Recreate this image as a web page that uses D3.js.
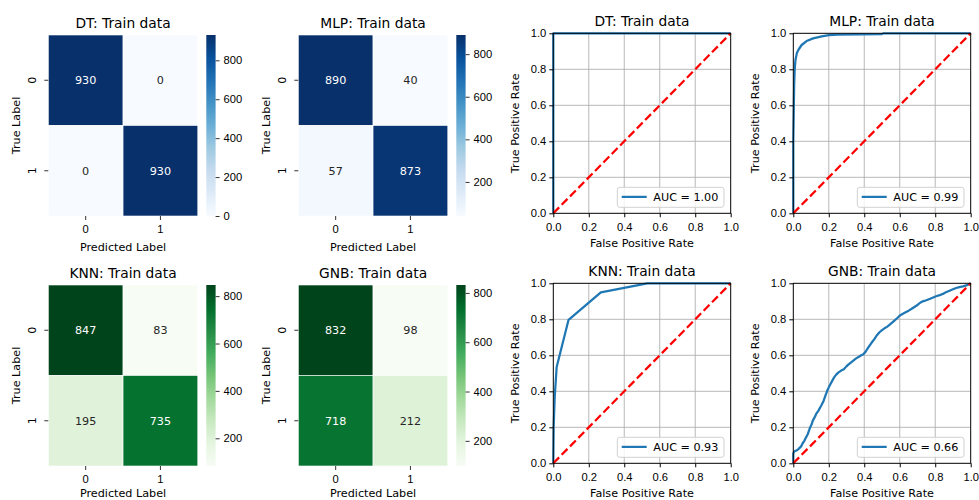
<!DOCTYPE html>
<html>
<head>
<meta charset="utf-8">
<script src="https://cdn.jsdelivr.net/npm/d3@7"></script>
<style>
  body { margin: 0; background: #fff; }
  svg { font-family: "DejaVu Sans", sans-serif; }
  .tick text { fill: #000; }
</style>
</head>
<body>
<div id="chart"></div>
<script>
// data
const models = ["DT", "MLP", "KNN", "GNB"];
const classLabels = ["0", "1"];

// confusion matrices, row-major [TN, FP, FN, TP]
const cmDT = [930, 0, 0, 930];
const cmMLP = [890, 40, 57, 873];
const cmKNN = [847, 83, 195, 735];
const cmGNB = [832, 98, 718, 212];

const aucValues = [1.00, 0.99, 0.93, 0.66];
const cbTicks = [0, 200, 400, 600, 800];
const rocTicks = [0, 0.2, 0.4, 0.6, 0.8, 1.0];

// ROC curves
const fprDT = [0, 0, 1];
const tprDT = [0, 1, 1];

const fprMLP = [0, 0, 0.005, 0.008, 0.012, 0.02, 0.03, 0.047, 0.075, 0.112, 0.16, 0.2, 0.25, 0.5, 0.51, 1];
const tprMLP = [0, 0.4, 0.72, 0.8, 0.85, 0.89, 0.91, 0.935, 0.957, 0.972, 0.983, 0.99, 0.993, 0.996, 1, 1];

const fprKNN = [0, 0.002, 0.008, 0.019, 0.086, 0.268, 0.53, 1];
const tprKNN = [0, 0.2, 0.37, 0.535, 0.797, 0.95, 1, 1];

const fprGNB = [0, 0, 0.005, 0.02, 0.03, 0.044, 0.052, 0.063, 0.07, 0.082, 0.088, 0.095, 0.103, 0.11, 0.12, 0.129,
  0.14, 0.157, 0.17, 0.181, 0.19, 0.2, 0.212, 0.223, 0.232, 0.242, 0.255, 0.27, 0.285, 0.298, 0.31, 0.326, 0.34,
  0.354, 0.37, 0.383, 0.395, 0.407, 0.417, 0.426, 0.44, 0.458, 0.47, 0.486, 0.5, 0.514, 0.528, 0.542, 0.555, 0.57,
  0.585, 0.599, 0.615, 0.633, 0.65, 0.665, 0.685, 0.702, 0.715, 0.73, 0.75, 0.768, 0.785, 0.805, 0.825, 0.843,
  0.86, 0.881, 0.9, 0.918, 0.936, 0.956, 0.975, 1];
const tprGNB = [0, 0.055, 0.065, 0.072, 0.08, 0.094, 0.11, 0.126, 0.14, 0.163, 0.18, 0.2, 0.215, 0.237, 0.255, 0.274,
  0.29, 0.32, 0.345, 0.376, 0.4, 0.422, 0.445, 0.465, 0.48, 0.493, 0.505, 0.515, 0.522, 0.537, 0.548, 0.561, 0.572,
  0.583, 0.592, 0.6, 0.606, 0.619, 0.635, 0.648, 0.668, 0.691, 0.71, 0.728, 0.74, 0.75, 0.758, 0.769, 0.78, 0.793,
  0.806, 0.82, 0.829, 0.839, 0.848, 0.857, 0.87, 0.881, 0.892, 0.9, 0.906, 0.913, 0.92, 0.928, 0.934, 0.941,
  0.95, 0.959, 0.967, 0.974, 0.979, 0.983, 0.988, 1];

const matrices = [cmDT, cmMLP, cmKNN, cmGNB];
const fprs = [fprDT, fprMLP, fprKNN, fprGNB];
const tprs = [tprDT, tprMLP, tprKNN, tprGNB];

// layout
const width = 979, height = 500;
const heatLeft = [48.3, 298.3], heatTop = [35, 285];
const heatW = 149.5, heatH = 181;
const xLabelOffset = [34.5, 30.5];
const cbGap = 8.5, cbW = 9.3;
const rocLeft = [553.3, 793.3], rocTop = [33.3, 283.3];
const rocW = 177.4, rocH = 180;
const tickFont = 11.2, titleFont = 13.8;

const svg = d3.select("#chart")
  .append("svg")
  .attr("width", width)
  .attr("height", height);

const defs = svg.append("defs");

function luminance(c) {
  const rgb = d3.rgb(c);
  const lin = v => {
    v = v / 255;
    return v <= 0.03928 ? v / 12.92 : Math.pow((v + 0.055) / 1.055, 2.4);
  };
  return 0.2126 * lin(rgb.r) + 0.7152 * lin(rgb.g) + 0.0722 * lin(rgb.b);
}

function drawHeatmap(i) {
  const col = i % 2, row = Math.floor(i / 2);
  const values = matrices[i];
  const scheme = row === 0 ? d3.schemeBlues[9] : d3.schemeGreens[9];
  const g = svg.append("g").attr("transform", `translate(${heatLeft[col]},${heatTop[row]})`);

  const x = d3.scaleBand().domain(classLabels).range([0, heatW]);
  const y = d3.scaleBand().domain(classLabels).range([0, heatH]);
  const [vmin, vmax] = d3.extent(values);
  const cmap = d3.scaleLinear()
    .domain(d3.range(9).map(k => vmin + (vmax - vmin) * k / 8))
    .range(scheme)
    .interpolate(d3.interpolateRgb);

  const cells = values.map((v, k) => ({ v, r: classLabels[Math.floor(k / 2)], c: classLabels[k % 2] }));

  g.selectAll(".cell")
    .data(cells)
    .enter()
    .append("rect")
    .attr("class", "cell")
    .attr("x", d => x(d.c))
    .attr("y", d => y(d.r))
    .attr("width", x.bandwidth())
    .attr("height", y.bandwidth())
    .attr("fill", d => cmap(d.v))
    .attr("stroke", "#fff")
    .attr("stroke-width", 0.6);

  g.selectAll(".ann")
    .data(cells)
    .enter()
    .append("text")
    .attr("class", "ann")
    .attr("x", d => x(d.c) + x.bandwidth() / 2)
    .attr("y", d => y(d.r) + y.bandwidth() / 2)
    .attr("dy", "0.36em")
    .attr("text-anchor", "middle")
    .attr("font-size", tickFont)
    .attr("fill", d => luminance(cmap(d.v)) > 0.408 ? "#262626" : "#fff")
    .text(d => d.v);

  // x ticks
  const xa = g.append("g")
    .attr("transform", `translate(0,${heatH})`)
    .call(d3.axisBottom(x).tickSize(4).tickPadding(5.5));
  xa.select(".domain").remove();
  xa.selectAll("text").attr("font-size", tickFont);
  xa.selectAll("line").attr("stroke", "#333");

  // y ticks, rotated labels
  const ya = g.append("g");
  ya.selectAll("line")
    .data(classLabels)
    .enter()
    .append("line")
    .attr("x1", -4).attr("x2", 0)
    .attr("y1", d => y(d) + y.bandwidth() / 2)
    .attr("y2", d => y(d) + y.bandwidth() / 2)
    .attr("stroke", "#333");
  ya.selectAll("text")
    .data(classLabels)
    .enter()
    .append("text")
    .attr("transform", d => `translate(-16,${y(d) + y.bandwidth() / 2}) rotate(-90)`)
    .attr("dy", "0.36em")
    .attr("text-anchor", "middle")
    .attr("font-size", tickFont)
    .text(d => d);

  g.append("text")
    .attr("x", heatW / 2)
    .attr("y", heatH + xLabelOffset[row])
    .attr("text-anchor", "middle")
    .attr("font-size", tickFont)
    .text("Predicted Label");

  g.append("text")
    .attr("transform", `translate(-32.3,${heatH / 2}) rotate(-90)`)
    .attr("dy", "0.36em")
    .attr("text-anchor", "middle")
    .attr("font-size", tickFont)
    .text("True Label");

  g.append("text")
    .attr("x", heatW / 2)
    .attr("y", -7)
    .attr("text-anchor", "middle")
    .attr("font-size", titleFont)
    .text(`${models[i]}: Train data`);

  // colorbar
  const gid = `grad${i}`;
  const grad = defs.append("linearGradient")
    .attr("id", gid)
    .attr("x1", 0).attr("y1", 1).attr("x2", 0).attr("y2", 0);
  grad.selectAll("stop")
    .data(scheme)
    .enter()
    .append("stop")
    .attr("offset", (d, k) => k / 8)
    .attr("stop-color", d => d);

  const cb = g.append("g").attr("transform", `translate(${heatW + cbGap},0)`);
  cb.append("rect")
    .attr("width", cbW)
    .attr("height", heatH)
    .attr("fill", `url(#${gid})`);
  const yc = d3.scaleLinear().domain([vmin, vmax]).range([heatH, 0]);
  const ca = cb.append("g")
    .attr("transform", `translate(${cbW},0)`)
    .call(d3.axisRight(yc)
      .tickValues(cbTicks.filter(t => t >= vmin && t <= vmax))
      .tickFormat(d3.format("d"))
      .tickSize(4)
      .tickPadding(4));
  ca.select(".domain").remove();
  ca.selectAll("text").attr("font-size", tickFont);
  ca.selectAll("line").attr("stroke", "#333");
}

function drawRoc(i) {
  const col = i % 2, row = Math.floor(i / 2);
  const g = svg.append("g").attr("transform", `translate(${rocLeft[col]},${rocTop[row]})`);
  const x = d3.scaleLinear().domain([0, 1]).range([0, rocW]);
  const y = d3.scaleLinear().domain([0, 1]).range([rocH, 0]);

  const clipId = `clip${i}`;
  defs.append("clipPath").attr("id", clipId)
    .append("rect").attr("x", -1.5).attr("y", -1.5).attr("width", rocW + 3).attr("height", rocH + 3);

  // grid
  g.append("g").selectAll("line")
    .data(rocTicks)
    .enter()
    .append("line")
    .attr("x1", d => x(d)).attr("x2", d => x(d))
    .attr("y1", 0).attr("y2", rocH)
    .attr("stroke", "#b0b0b0").attr("stroke-width", 0.9);
  g.append("g").selectAll("line")
    .data(rocTicks)
    .enter()
    .append("line")
    .attr("y1", d => y(d)).attr("y2", d => y(d))
    .attr("x1", 0).attr("x2", rocW)
    .attr("stroke", "#b0b0b0").attr("stroke-width", 0.9);

  const pts = fprs[i].map((f, k) => [f, tprs[i][k]]);
  const line = d3.line().x(d => x(d[0])).y(d => y(d[1]));

  g.append("path")
    .datum(pts)
    .attr("d", line)
    .attr("fill", "none")
    .attr("stroke", "#1f77b4")
    .attr("stroke-width", 2.25)
    .attr("stroke-linejoin", "round")
    .attr("clip-path", `url(#${clipId})`);

  g.append("path")
    .datum([[0, 0], [1, 1]])
    .attr("d", line)
    .attr("fill", "none")
    .attr("stroke", "red")
    .attr("stroke-width", 2.25)
    .attr("stroke-dasharray", "8.3,3.6")
    .attr("clip-path", `url(#${clipId})`);

  // frame
  g.append("rect")
    .attr("width", rocW)
    .attr("height", rocH)
    .attr("fill", "none")
    .attr("stroke", "#000")
    .attr("stroke-width", 0.9);

  const fmt = d3.format(".1f");
  const xa = g.append("g")
    .attr("transform", `translate(0,${rocH})`)
    .call(d3.axisBottom(x).tickValues(rocTicks).tickFormat(fmt).tickSize(4).tickPadding(5.5));
  xa.select(".domain").remove();
  xa.selectAll("text").attr("font-size", tickFont);

  const ya = g.append("g")
    .call(d3.axisLeft(y).tickValues(rocTicks).tickFormat(fmt).tickSize(4).tickPadding(3));
  ya.select(".domain").remove();
  ya.selectAll("text").attr("font-size", tickFont);

  g.append("text")
    .attr("x", rocW / 2)
    .attr("y", rocH + 34.1)
    .attr("text-anchor", "middle")
    .attr("font-size", tickFont)
    .text("False Positive Rate");

  g.append("text")
    .attr("transform", `translate(-38.3,${rocH / 2}) rotate(-90)`)
    .attr("dy", "0.36em")
    .attr("text-anchor", "middle")
    .attr("font-size", tickFont)
    .text("True Positive Rate");

  g.append("text")
    .attr("x", rocW / 2)
    .attr("y", -7)
    .attr("text-anchor", "middle")
    .attr("font-size", titleFont)
    .text(`${models[i]}: Train data`);

  // legend
  const lg = g.append("g").attr("transform", `translate(${rocW - 113.4},${rocH - 26})`);
  lg.append("rect")
    .attr("width", 106.7)
    .attr("height", 20)
    .attr("rx", 2.5)
    .attr("fill", "#fff")
    .attr("fill-opacity", 0.8)
    .attr("stroke", "#cccccc")
    .attr("stroke-width", 0.9);
  lg.append("line")
    .attr("x1", 4.4).attr("x2", 29.4)
    .attr("y1", 9.6).attr("y2", 9.6)
    .attr("stroke", "#1f77b4")
    .attr("stroke-width", 2.25);
  lg.append("text")
    .attr("x", 36)
    .attr("y", 13.6)
    .attr("font-size", tickFont)
    .text(`AUC = ${d3.format(".2f")(aucValues[i])}`);
}

models.forEach((m, i) => {
  drawHeatmap(i);
  drawRoc(i);
});
</script>
</body>
</html>
